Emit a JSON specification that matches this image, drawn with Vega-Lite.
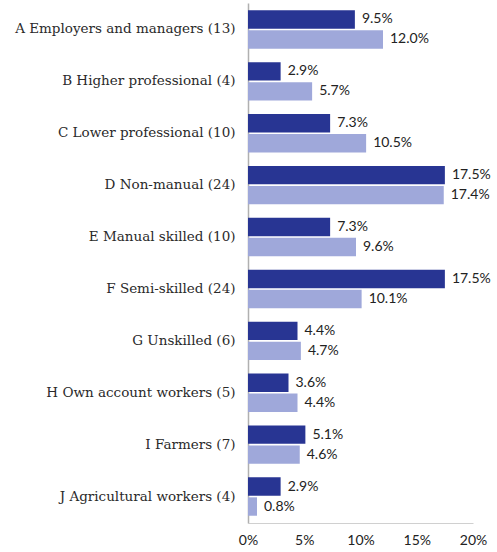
{
  "$schema": "https://vega.github.io/schema/vega-lite/v6.json",
  "autosize": "none",
  "width": 225,
  "height": 520,
  "padding": {"left": 248, "top": 3, "right": 24, "bottom": 29},
  "background": "white",
  "config": {
    "font": "Lato",
    "view": {"stroke": null}
  },
  "data": {
    "values": [
      {"cat": "A Employers and managers (13)", "series": "Series 1", "v": 0.095},
      {"cat": "A Employers and managers (13)", "series": "Series 2", "v": 0.120},
      {"cat": "B Higher professional (4)", "series": "Series 1", "v": 0.029},
      {"cat": "B Higher professional (4)", "series": "Series 2", "v": 0.057},
      {"cat": "C Lower professional (10)", "series": "Series 1", "v": 0.073},
      {"cat": "C Lower professional (10)", "series": "Series 2", "v": 0.105},
      {"cat": "D Non-manual (24)", "series": "Series 1", "v": 0.175},
      {"cat": "D Non-manual (24)", "series": "Series 2", "v": 0.174},
      {"cat": "E Manual skilled (10)", "series": "Series 1", "v": 0.073},
      {"cat": "E Manual skilled (10)", "series": "Series 2", "v": 0.096},
      {"cat": "F Semi-skilled (24)", "series": "Series 1", "v": 0.175},
      {"cat": "F Semi-skilled (24)", "series": "Series 2", "v": 0.101},
      {"cat": "G Unskilled (6)", "series": "Series 1", "v": 0.044},
      {"cat": "G Unskilled (6)", "series": "Series 2", "v": 0.047},
      {"cat": "H Own account workers (5)", "series": "Series 1", "v": 0.036},
      {"cat": "H Own account workers (5)", "series": "Series 2", "v": 0.044},
      {"cat": "I Farmers (7)", "series": "Series 1", "v": 0.051},
      {"cat": "I Farmers (7)", "series": "Series 2", "v": 0.046},
      {"cat": "J Agricultural workers (4)", "series": "Series 1", "v": 0.029},
      {"cat": "J Agricultural workers (4)", "series": "Series 2", "v": 0.008}
    ]
  },
  "encoding": {
    "y": {
      "field": "cat", "type": "nominal", "sort": null,
      "scale": {"paddingInner": 0.26, "paddingOuter": 0.14},
      "axis": {
        "title": null, "ticks": false, "domainColor": "#b0b0b0", "domainWidth": 1.5,
        "labelFont": "DejaVu Serif", "labelFontSize": 13.5, "labelColor": "#2a2a2a", "labelPadding": 13, "labelLimit": 300
      }
    },
    "yOffset": {"field": "series", "type": "nominal", "scale": {"paddingInner": 0.08}},
    "x": {
      "field": "v", "type": "quantitative",
      "scale": {"domain": [0, 0.2]},
      "axis": {
        "title": null, "format": ".0%", "values": [0, 0.05, 0.1, 0.15, 0.2],
        "grid": false, "ticks": false, "domainColor": "#d0d0d0", "domainWidth": 1,
        "labelFlush": false, "labelFontSize": 14, "labelColor": "#222222", "labelPadding": 10
      }
    }
  },
  "layer": [
    {
      "mark": {"type": "bar"},
      "encoding": {
        "color": {
          "field": "series", "type": "nominal", "legend": null,
          "scale": {"domain": ["Series 1", "Series 2"], "range": ["#283593", "#9fa8da"]}
        }
      }
    },
    {
      "mark": {"type": "text", "align": "left", "baseline": "middle", "dx": 7, "fontSize": 14, "color": "#222222"},
      "encoding": {
        "text": {"field": "v", "type": "quantitative", "format": ".1%"}
      }
    }
  ]
}
